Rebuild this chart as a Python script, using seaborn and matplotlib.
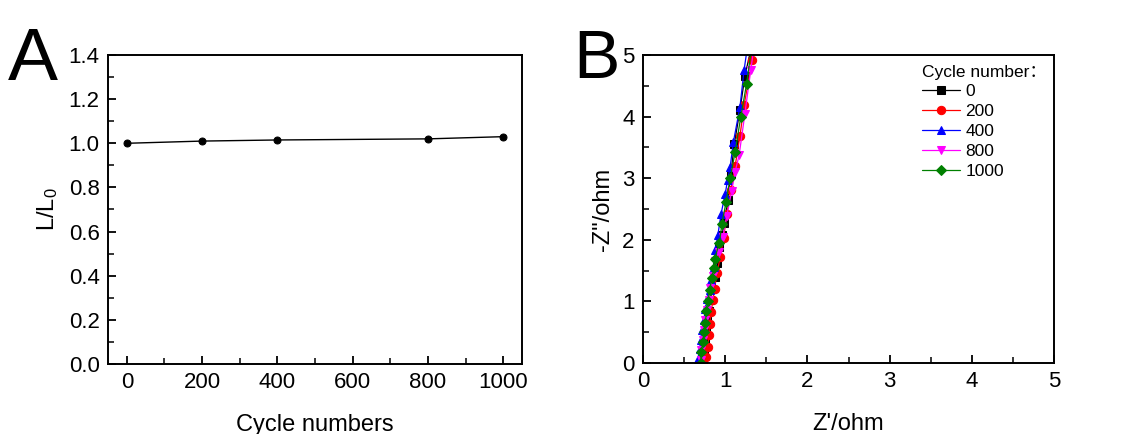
import numpy as np
import pandas as pd
import matplotlib
matplotlib.use("Agg")
import matplotlib.pyplot as plt
from matplotlib.ticker import MultipleLocator
import seaborn as sns

# ---- Panel A data ----
cycles = [0, 200, 400, 800, 1000]
ratio = [1.000, 1.010, 1.015, 1.020, 1.030]

# ---- Panel B data (Nyquist, Z' vs -Z'') ----
series_names = ["0", "200", "400", "800", "1000"]
z_re_0 = [0.73, 0.74, 0.75, 0.77, 0.78, 0.80, 0.82, 0.84, 0.87, 0.90, 0.93, 0.96, 0.99, 1.03, 1.07, 1.11, 1.18, 1.24, 1.33, 1.40]
z_im_0 = [0.05, 0.20, 0.36, 0.52, 0.68, 0.85, 1.02, 1.20, 1.40, 1.62, 1.88, 2.07, 2.28, 2.65, 3.07, 3.55, 4.11, 4.66, 5.20, 5.8]
z_re_200 = [0.77, 0.79, 0.80, 0.81, 0.83, 0.85, 0.87, 0.90, 0.94, 0.98, 1.02, 1.07, 1.12, 1.18, 1.23, 1.33, 1.40]
z_im_200 = [0.09, 0.26, 0.45, 0.64, 0.83, 1.02, 1.20, 1.46, 1.72, 2.03, 2.42, 2.81, 3.19, 3.69, 4.19, 4.92, 5.5]
z_re_400 = [0.67, 0.69, 0.70, 0.72, 0.74, 0.76, 0.78, 0.81, 0.83, 0.86, 0.88, 0.91, 0.95, 1.00, 1.03, 1.06, 1.10, 1.18, 1.23, 1.30]
z_im_400 = [0.07, 0.22, 0.38, 0.54, 0.70, 0.87, 1.04, 1.19, 1.34, 1.56, 1.83, 2.07, 2.42, 2.75, 2.97, 3.18, 3.59, 4.16, 4.76, 5.4]
z_re_800 = [0.70, 0.71, 0.73, 0.74, 0.76, 0.78, 0.80, 0.82, 0.85, 0.88, 0.92, 0.97, 1.02, 1.08, 1.12, 1.17, 1.24, 1.31, 1.38]
z_im_800 = [0.05, 0.21, 0.37, 0.53, 0.69, 0.86, 1.03, 1.22, 1.42, 1.66, 1.80, 2.04, 2.39, 2.80, 3.10, 3.38, 4.05, 4.75, 5.4]
z_re_1000 = [0.70, 0.71, 0.73, 0.74, 0.76, 0.77, 0.79, 0.81, 0.84, 0.86, 0.87, 0.93, 0.96, 1.01, 1.06, 1.12, 1.19, 1.26, 1.33]
z_im_1000 = [0.00, 0.18, 0.34, 0.50, 0.65, 0.84, 1.00, 1.19, 1.38, 1.54, 1.69, 1.95, 2.26, 2.61, 3.00, 3.42, 4.00, 4.53, 5.2]

series_x = [z_re_0, z_re_200, z_re_400, z_re_800, z_re_1000]
series_y = [z_im_0, z_im_200, z_im_400, z_im_800, z_im_1000]
colors = ["#000000", "#ff0000", "#0000ff", "#ff00ff", "#008000"]
markers = ["s", "o", "^", "v", "D"]

sns.set_style("white", {"xtick.direction": "in", "ytick.direction": "in",
                        "axes.edgecolor": "black", "text.color": "black",
                        "axes.labelcolor": "black", "xtick.color": "black",
                        "ytick.color": "black"})
plt.rcParams["font.family"] = ["Liberation Sans", "Noto Sans CJK SC", "DejaVu Sans"]
plt.rcParams["mathtext.fontset"] = "custom"
plt.rcParams["mathtext.rm"] = "Liberation Sans"
plt.rcParams["mathtext.it"] = "Liberation Sans"
plt.rcParams["text.color"] = "black"

fig = plt.figure(figsize=(11.30, 4.34), dpi=100)
fig.patch.set_facecolor("white")
axA = fig.add_axes([108 / 1130, 1 - 364 / 434, 414 / 1130, 309 / 434])
axB = fig.add_axes([643 / 1130, 1 - 363 / 434, 411 / 1130, 308 / 434])

# Panel A
dfA = pd.DataFrame({"cycle": cycles, "ratio": ratio})
sns.lineplot(data=dfA, x="cycle", y="ratio", ax=axA, color="black", marker="o",
             markersize=5, linewidth=1.0, markeredgecolor="black")
axA.set_xlim(-50, 1050)
axA.set_ylim(0, 1.4)
axA.xaxis.set_major_locator(MultipleLocator(200))
axA.xaxis.set_minor_locator(MultipleLocator(100))
axA.yaxis.set_major_locator(MultipleLocator(0.2))
axA.yaxis.set_minor_locator(MultipleLocator(0.1))
axA.yaxis.set_major_formatter(matplotlib.ticker.FormatStrFormatter("%.1f"))
axA.set_xlabel("Cycle numbers", fontsize=17, labelpad=15, color="black")
axA.set_ylabel("L/L$_0$", fontsize=17, labelpad=6, color="black")

# Panel B
for name, xs, ys, c, m in zip(series_names, series_x, series_y, colors, markers):
    df = pd.DataFrame({"zre": xs, "zim": ys})
    sns.lineplot(data=df, x="zre", y="zim", ax=axB, sort=False, color=c, marker=m,
                 markersize=6 if m != "D" else 5, linewidth=0.9, markeredgecolor=c,
                 label=name)
axB.set_xlim(0, 5)
axB.set_ylim(0, 5)
axB.xaxis.set_major_locator(MultipleLocator(1))
axB.xaxis.set_minor_locator(MultipleLocator(0.5))
axB.yaxis.set_major_locator(MultipleLocator(1))
axB.yaxis.set_minor_locator(MultipleLocator(0.5))
axB.set_xlabel("Z'/ohm", fontsize=17, labelpad=15, color="black")
axB.set_ylabel('-Z"/ohm', fontsize=17, labelpad=6, color="black")
leg = axB.legend(title="Cycle number：", loc="upper left", bbox_to_anchor=(0.655, 1.0),
                 frameon=False, fontsize=12.5, title_fontsize=12.5, handlelength=2.2,
                 handletextpad=0.3, labelspacing=0.27, borderaxespad=0.15,
                 markerscale=1.0)
leg._legend_box.align = "left"
for t in leg.get_texts():
    t.set_color("black")
leg.get_title().set_color("black")

for ax in (axA, axB):
    for s in ax.spines.values():
        s.set_linewidth(1.4)
        s.set_color("black")
    ax.tick_params(which="major", direction="in", length=6, width=1.3, labelsize=16,
                   top=False, right=False, left=True, bottom=True, pad=6,
                   colors="black", labelcolor="black")
    ax.tick_params(which="minor", direction="in", length=4, width=1.1,
                   top=False, right=False, left=True, bottom=True, colors="black")
    ax.set_facecolor("white")

fig.text(33 / 1130, 1 - 60 / 434, "A", fontsize=54, ha="center", va="center",
         color="black", family=["Liberation Sans"])
fig.text(596 / 1130, 1 - 60 / 434, "B", fontsize=50, ha="center", va="center",
         color="black", family=["Liberation Sans"])

fig.savefig("out.png", dpi=100, facecolor="white")
